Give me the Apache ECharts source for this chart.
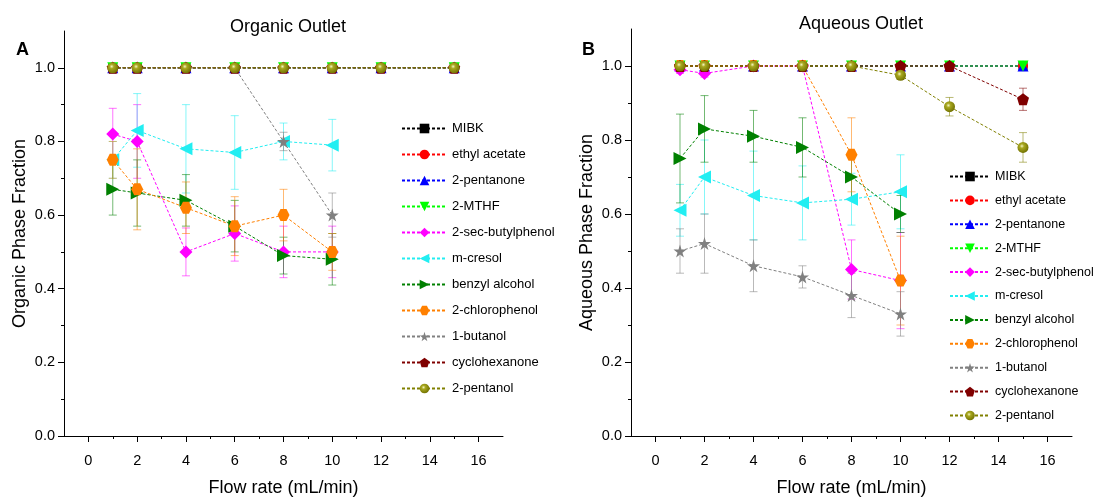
<!DOCTYPE html>
<html>
<head>
<meta charset="utf-8">
<script src="https://cdn.jsdelivr.net/npm/echarts@6/dist/echarts.min.js"></script>
<style>
html,body{margin:0;padding:0;background:#fff;}
#chart{width:1096px;height:502px;}
</style>
</head>
<body>
<div id="chart"></div>
<script>
// ---------- DATA ----------
const seriesNames = ['MIBK','ethyl acetate','2-pentanone','2-MTHF','2-sec-butylphenol','m-cresol','benzyl alcohol','2-chlorophenol','1-butanol','cyclohexanone','2-pentanol'];
const flowFull = [1, 2, 4, 6, 8, 10, 12, 15];
const flowShort = [1, 2, 4, 6, 8, 10];
const xTickLabels = [0, 2, 4, 6, 8, 10, 12, 14, 16];
const xMinorTicks = [1, 3, 5, 7, 9, 11, 13, 15];
const yTickLabels = [0, 0.2, 0.4, 0.6, 0.8, 1.0];
const yMinorTicks = [0.1, 0.3, 0.5, 0.7, 0.9];

// Organic outlet (panel A)
const orgMIBK = [1, 1, 1, 1, 1, 1, 1, 1];
const orgEthylAcetate = [1, 1, 1, 1, 1, 1, 1, 1];
const orgPentanone = [1, 1, 1, 1, 1, 1, 1, 1];
const orgMTHF = [1, 1, 1, 1, 1, 1, 1, 1];
const orgSecButylphenol = [0.82, 0.80, 0.50, 0.55, 0.50, 0.50];
const orgSecButylphenolErr = [0.07, 0.10, 0.065, 0.075, 0.07, 0.07];
const orgCresol = [0.75, 0.83, 0.78, 0.77, 0.80, 0.79];
const orgCresolErr = [0.05, 0.10, 0.12, 0.10, 0.05, 0.07];
const orgBenzyl = [0.67, 0.66, 0.64, 0.57, 0.49, 0.48];
const orgBenzylErr = [0.07, 0.09, 0.07, 0.07, 0.05, 0.07];
const orgChlorophenol = [0.75, 0.67, 0.62, 0.57, 0.60, 0.50];
const orgChlorophenolErr = [0.05, 0.11, 0.07, 0.08, 0.07, 0.05];
const orgButanol = [1, 1, 1, 1, 0.80, 0.60];
const orgButanolErr = [0, 0, 0, 0, 0.025, 0.06];
const orgCyclohexanone = [1, 1, 1, 1, 1, 1, 1, 1];
const orgPentanol = [1, 1, 1, 1, 1, 1, 1, 1];

// Aqueous outlet (panel B)
const aqMIBK = [1, 1, 1, 1, 1, 1, 1, 1];
const aqEthylAcetate = [1, 1, 1, 1, 1, 1, 1, 1];
const aqPentanone = [1, 1, 1, 1, 1, 1, 1, 1];
const aqMTHF = [1, 1, 1, 1, 1, 1, 1, 1];
const aqSecButylphenol = [0.99, 0.98, 1.0, 1.0, 0.45, 0.42];
const aqSecButylphenolErr = [0.01, 0.01, 0, 0, 0.08, 0.13];
const aqCresol = [0.61, 0.70, 0.65, 0.63, 0.64, 0.66];
const aqCresolErr = [0.07, 0.10, 0.12, 0.10, 0.07, 0.10];
const aqBenzyl = [0.75, 0.83, 0.81, 0.78, 0.70, 0.60];
const aqBenzylErr = [0.12, 0.09, 0.07, 0.08, 0.06, 0.05];
const aqChlorophenol = [1, 1, 1, 1, 0.76, 0.42];
const aqChlorophenolErr = [0, 0, 0, 0, 0.10, 0.12];
const aqButanol = [0.50, 0.52, 0.46, 0.43, 0.38, 0.33];
const aqButanolErr = [0.06, 0.08, 0.07, 0.03, 0.06, 0.06];
const aqCyclohexanone = [1, 1, 1, 1, 1, 1, 1, 0.91];
const aqCyclohexanoneErr = [0, 0, 0, 0, 0, 0, 0, 0.03];
const aqPentanol = [1, 1, 1, 1, 1, 0.975, 0.89, 0.78];
const aqPentanolErr = [0, 0, 0, 0, 0, 0.01, 0.025, 0.04];

// ---------- STYLES ----------
const FONT = '"Liberation Sans", Arial, sans-serif';
const STAR = 'path://M50,0 L61,35 L98,35 L68,57 L79,91 L50,70 L21,91 L32,57 L2,35 L39,35 Z';
const PENTA = 'path://M50,0 L98,36 L80,95 L20,95 L2,36 Z';
const HEXA = 'path://M27,4 L73,4 L96,50 L73,96 L27,96 L4,50 Z';
const styleMap = {
  'MIBK': {color: '#000000', symbol: 'rect', size: 9, rot: 0},
  'ethyl acetate': {color: '#FF0000', symbol: 'circle', size: 10, rot: 0},
  '2-pentanone': {color: '#0000FF', symbol: 'triangle', size: 11, rot: 0},
  '2-MTHF': {color: '#00FF00', symbol: 'triangle', size: 11, rot: 180},
  '2-sec-butylphenol': {color: '#FF00FF', symbol: 'diamond', size: 13, rot: 0},
  'm-cresol': {color: '#22EEF2', symbol: 'triangle', size: 13, rot: 90},
  'benzyl alcohol': {color: '#008000', symbol: 'triangle', size: 13, rot: -90},
  '2-chlorophenol': {color: '#FF8000', symbol: HEXA, size: 12, rot: 0},
  '1-butanol': {color: '#808080', symbol: STAR, size: 13, rot: 0},
  'cyclohexanone': {color: '#800000', symbol: PENTA, size: 12, rot: 0},
  '2-pentanol': {color: '#808000', symbol: 'circle', size: 11, rot: 0}
};

const organicTable = [
  ['MIBK', flowFull, orgMIBK, null],
  ['ethyl acetate', flowFull, orgEthylAcetate, null],
  ['2-pentanone', flowFull, orgPentanone, null],
  ['2-MTHF', flowFull, orgMTHF, null],
  ['2-sec-butylphenol', flowShort, orgSecButylphenol, orgSecButylphenolErr],
  ['m-cresol', flowShort, orgCresol, orgCresolErr],
  ['benzyl alcohol', flowShort, orgBenzyl, orgBenzylErr],
  ['2-chlorophenol', flowShort, orgChlorophenol, orgChlorophenolErr],
  ['1-butanol', flowShort, orgButanol, orgButanolErr],
  ['cyclohexanone', flowFull, orgCyclohexanone, null],
  ['2-pentanol', flowFull, orgPentanol, null]
];
const aqueousTable = [
  ['MIBK', flowFull, aqMIBK, null],
  ['ethyl acetate', flowFull, aqEthylAcetate, null],
  ['2-pentanone', flowFull, aqPentanone, null],
  ['2-MTHF', flowFull, aqMTHF, null],
  ['2-sec-butylphenol', flowShort, aqSecButylphenol, aqSecButylphenolErr],
  ['m-cresol', flowShort, aqCresol, aqCresolErr],
  ['benzyl alcohol', flowShort, aqBenzyl, aqBenzylErr],
  ['2-chlorophenol', flowShort, aqChlorophenol, aqChlorophenolErr],
  ['1-butanol', flowShort, aqButanol, aqButanolErr],
  ['cyclohexanone', flowFull, aqCyclohexanone, aqCyclohexanoneErr],
  ['2-pentanol', flowFull, aqPentanol, aqPentanolErr]
];

function fillFor(name) {
  const c = styleMap[name].color;
  if (name === '2-pentanol') {
    return {type: 'radial', x: 0.4, y: 0.38, r: 0.65,
      colorStops: [{offset: 0, color: '#f4f4c0'}, {offset: 0.3, color: '#a8a820'}, {offset: 1, color: '#707000'}]};
  }
  return c;
}

function buildSeries(table, g) {
  const out = [];
  table.forEach(([name, xs, ys, errs]) => {
    const st = styleMap[name];
    if (errs) {
      out.push({
        type: 'custom', name: name + ' error', xAxisIndex: g * 2, yAxisIndex: g * 2, z: 1,
        silent: true,
        data: xs.map((x, i) => [x, ys[i], errs[i]]),
        encode: {x: 0, y: 1},
        renderItem: function (params, api) {
          const x = api.value(0), y = api.value(1), e = api.value(2);
          if (!e) return null;
          const t = api.coord([x, y + e]);
          const b = api.coord([x, y - e]);
          const cw = 4;
          const s = {stroke: st.color, lineWidth: 1, opacity: 0.55};
          return {type: 'group', children: [
            {type: 'line', shape: {x1: t[0], y1: t[1], x2: b[0], y2: b[1]}, style: s},
            {type: 'line', shape: {x1: t[0] - cw, y1: t[1], x2: t[0] + cw, y2: t[1]}, style: s},
            {type: 'line', shape: {x1: b[0] - cw, y1: b[1], x2: b[0] + cw, y2: b[1]}, style: s}
          ]};
        }
      });
    }
    out.push({
      type: 'line', name: name, xAxisIndex: g * 2, yAxisIndex: g * 2, z: 3,
      data: xs.map((x, i) => [x, ys[i]]),
      symbol: st.symbol, symbolSize: st.size, symbolRotate: st.rot,
      showAllSymbol: true,
      itemStyle: {color: fillFor(name), borderWidth: 0},
      lineStyle: {color: st.color, width: 1, type: [3, 2]},
      emphasis: {disabled: true},
      animation: false
    });
  });
  return out;
}

function axesFor(g) {
  const xs = [
    {type: 'value', gridIndex: g, min: -1, max: 17, position: 'bottom', offset: 0,
      axisLine: {show: true, onZero: false, lineStyle: {color: '#000', width: 1}},
      axisTick: {show: true, length: 6, customValues: xTickLabels, lineStyle: {color: '#000'}},
      axisLabel: {customValues: xTickLabels, color: '#000', fontSize: 14.5, fontFamily: FONT, margin: 17},
      splitLine: {show: false},
      name: 'Flow rate (mL/min)', nameLocation: 'middle', nameGap: 43,
      nameTextStyle: {color: '#000', fontSize: 18, fontFamily: FONT}},
    {type: 'value', gridIndex: g, min: -1, max: 17, position: 'bottom', offset: 0,
      axisLine: {show: false, onZero: false},
      axisTick: {show: true, length: 3, customValues: xMinorTicks, lineStyle: {color: '#000'}},
      axisLabel: {show: false},
      splitLine: {show: false}}
  ];
  const ys = [
    {type: 'value', gridIndex: g, min: 0, max: 1.1, position: 'left', offset: 0,
      axisLine: {show: true, onZero: false, lineStyle: {color: '#000', width: 1}},
      axisTick: {show: true, length: 6, customValues: yTickLabels, lineStyle: {color: '#000'}},
      axisLabel: {customValues: yTickLabels, color: '#000', fontSize: 14.5, fontFamily: FONT, margin: 9,
        formatter: v => Number(v).toFixed(1)},
      splitLine: {show: false},
      name: g === 0 ? 'Organic Phase Fraction' : 'Aqueous Phase Fraction',
      nameLocation: 'middle', nameGap: 35,
      nameTextStyle: {color: '#000', fontSize: 18, fontFamily: FONT}},
    {type: 'value', gridIndex: g, min: 0, max: 1.1, position: 'left', offset: 0,
      axisLine: {show: false, onZero: false},
      axisTick: {show: true, length: 3, customValues: yMinorTicks, lineStyle: {color: '#000'}},
      axisLabel: {show: false},
      splitLine: {show: false}}
  ];
  return {xs, ys};
}

const a0 = axesFor(0), a1 = axesFor(1);
const chart = echarts.init(document.getElementById('chart'), null, {renderer: 'canvas'});
const legendBase = {
  orient: 'vertical', data: seriesNames,
  selectedMode: false
};
chart.setOption({
  animation: false,
  backgroundColor: '#fff',
  title: [
    {text: 'Organic Outlet', left: 283, top: 13, textAlign: 'center',
      textStyle: {fontSize: 18, fontWeight: 'normal', color: '#000', fontFamily: FONT}},
    {text: 'Aqueous Outlet', left: 856, top: 10, textAlign: 'center',
      textStyle: {fontSize: 18, fontWeight: 'normal', color: '#000', fontFamily: FONT}},
    {text: 'A', left: 11, top: 36, textStyle: {fontSize: 18, fontWeight: 'bold', color: '#000', fontFamily: FONT}},
    {text: 'B', left: 577, top: 36, textStyle: {fontSize: 18, fontWeight: 'bold', color: '#000', fontFamily: FONT}}
  ],
  grid: [
    {left: 64, top: 31, width: 439, height: 407},
    {left: 631, top: 29, width: 441, height: 408}
  ],
  xAxis: [...a0.xs, ...a1.xs],
  yAxis: [...a0.ys, ...a1.ys],
  legend: [
    Object.assign({}, legendBase, {left: 396, top: 117, itemWidth: 45, itemHeight: 12, itemGap: 13,
      textStyle: {color: '#000', fontFamily: FONT, fontSize: 13}}),
    Object.assign({}, legendBase, {left: 944, top: 165, itemWidth: 40, itemHeight: 12, itemGap: 10.9,
      textStyle: {color: '#000', fontFamily: FONT, fontSize: 12.5}})
  ],
  series: [...buildSeries(organicTable, 0), ...buildSeries(aqueousTable, 1)]
});
</script>
</body>
</html>
